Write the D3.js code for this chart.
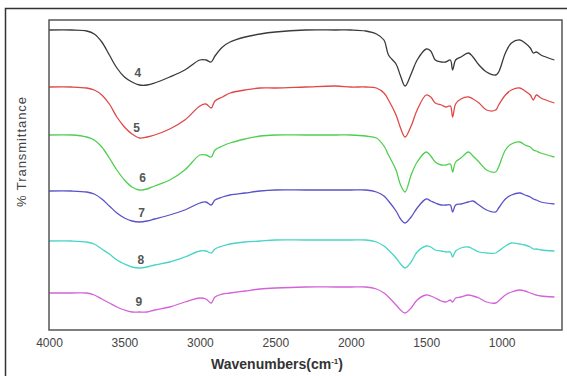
<!DOCTYPE html>
<html>
<head>
<meta charset="utf-8">
<script src="https://cdn.jsdelivr.net/npm/d3@7"></script>
<style>
  body { margin: 0; background: #fff; }
  svg { display: block; font-family: Arial, "Liberation Sans", sans-serif; }
</style>
</head>
<body>
<div id="chart"></div>
<script>
// wavenumber grid (cm-1), shared by all spectra
const wavenumbers = [4000, 3850, 3750, 3700, 3650, 3600, 3550, 3500, 3450, 3400,
  3350, 3300, 3200, 3100, 3000, 2960, 2925, 2900, 2850, 2800,
  2700, 2600, 2500, 2300, 2100, 2000, 1900, 1830, 1780, 1750,
  1700, 1670, 1640, 1600, 1560, 1500, 1470, 1440, 1400, 1370,
  1340, 1325, 1305, 1270, 1220, 1190, 1150, 1100, 1040, 1020,
  975, 935, 880, 845, 810, 790, 770, 740, 650];

// stacked % transmittance (offset, arbitrary units)
const spec4 = [300, 300, 299, 296, 288, 275, 262, 253, 248, 245,
  245, 247, 253, 260, 270, 270, 268, 274, 283, 288,
  293, 296, 298, 300, 300, 300, 299, 296, 290, 275,
  266, 254, 244, 256, 270, 281, 279, 270, 268, 268,
  270, 260, 270, 273, 277, 273, 265, 258, 255, 258,
  277, 287, 290, 287, 282, 277, 278, 275, 270];
const spec5 = [243, 243, 242, 240, 235, 226, 213, 203, 196, 192,
  193, 195, 201, 210, 224, 226, 222, 229, 233, 237,
  240, 242, 242, 243, 244, 243, 243, 242, 237, 230,
  215, 202, 193, 204, 220, 235, 233, 227, 225, 223,
  224, 213, 226, 231, 233, 231, 227, 220, 220, 225,
  235, 240, 242, 239, 235, 230, 235, 232, 227];
const spec6 = [195, 195, 193, 190, 183, 172, 160, 150, 143, 140,
  141, 144, 150, 160, 175, 175, 173, 180, 184, 187,
  191, 194, 195, 195, 195, 195, 194, 192, 184, 175,
  160, 145, 138, 155, 168, 178, 174, 168, 165, 165,
  166, 158, 168, 172, 178, 174, 168, 160, 158, 163,
  180, 186, 188, 185, 183, 180, 179, 177, 173];
const spec7 = [139, 139, 138, 136, 131, 124, 117, 112, 109, 108,
  109, 111, 115, 120, 127, 128, 125, 130, 133, 135,
  137, 139, 140, 140, 140, 140, 140, 138, 134, 129,
  119, 111, 107, 113, 122, 131, 129, 127, 125, 125,
  125, 118, 125, 126, 128, 129, 125, 120, 118, 122,
  131, 135, 137, 135, 133, 131, 130, 128, 126];
const spec8 = [89, 89, 88, 86, 81, 76, 70, 66, 63, 62,
  63, 65, 68, 73, 79, 79, 77, 81, 84, 86,
  88, 89, 90, 90, 90, 90, 90, 88, 84, 80,
  72, 66, 62, 68, 78, 84, 83, 80, 79, 78,
  78, 73, 79, 82, 83, 81, 78, 77, 77, 79,
  84, 87, 86, 85, 83, 81, 81, 80, 79];
const spec9 = [37, 37, 37, 35, 31, 27, 23, 20, 18, 18,
  18, 20, 23, 28, 32, 31, 27, 33, 36, 37,
  39, 41, 42, 43, 43, 43, 43, 41, 37, 33,
  25, 20, 17, 22, 30, 35, 34, 32, 29, 28,
  30, 28, 32, 33, 35, 34, 32, 28, 27, 29,
  35, 38, 40, 39, 37, 36, 35, 34, 33];

const sampleNames = ["4", "5", "6", "7", "8", "9"];
const spectra = [spec4, spec5, spec6, spec7, spec8, spec9];
// where each sample number sits (wavenumber, offset value)
const labelWavenumbers = [3412, 3419, 3379, 3386, 3392, 3405];
const labelValues = [257, 202, 152, 117, 70, 28];
const xTicks = [4000, 3500, 3000, 2500, 2000, 1500, 1000];

const width = 567, height = 376;
const margin = { top: 20, right: 5, bottom: 46, left: 49 };

const svg = d3.select("#chart").append("svg")
  .attr("width", width)
  .attr("height", height);

// outer frame of the figure
svg.append("rect")
  .attr("x", 5.5).attr("y", 8.5)
  .attr("width", 600).attr("height", 400)
  .attr("fill", "none")
  .attr("stroke", "#333")
  .attr("stroke-width", 1.5);

const x = d3.scaleLinear()
  .domain([4000, 600])
  .range([margin.left, width - margin.right]);

const y = d3.scaleLinear()
  .domain([0, 310])
  .range([height - margin.bottom, margin.top]);

const color = d3.scaleOrdinal()
  .domain(sampleNames)
  .range(["#3a3a3a", "#e04848", "#4fcf4f", "#5a52c8", "#48d4c8", "#d462d8"]);

const line = d3.line()
  .x((d, i) => x(wavenumbers[i]))
  .y(d => y(d))
  .curve(d3.curveCatmullRom);

svg.append("g")
  .selectAll("path")
  .data(spectra)
  .join("path")
  .attr("d", d => line(d))
  .attr("fill", "none")
  .attr("stroke", (d, i) => color(sampleNames[i]))
  .attr("stroke-width", 1.3);

svg.append("g")
  .selectAll("text")
  .data(sampleNames)
  .join("text")
  .attr("x", (d, i) => x(labelWavenumbers[i]))
  .attr("y", (d, i) => y(labelValues[i]))
  .attr("dy", "0.35em")
  .attr("text-anchor", "middle")
  .attr("font-size", 12)
  .attr("font-weight", "bold")
  .attr("fill", "#555")
  .text(d => d);

// plot box
svg.append("rect")
  .attr("x", margin.left)
  .attr("y", margin.top)
  .attr("width", width - margin.right - margin.left)
  .attr("height", height - margin.bottom - margin.top)
  .attr("fill", "none")
  .attr("stroke", "#555")
  .attr("stroke-width", 1.5);

const xAxis = svg.append("g")
  .attr("transform", `translate(0,${height - margin.bottom})`)
  .call(d3.axisBottom(x).tickValues(xTicks).tickSize(0).tickPadding(8).tickFormat(d3.format("d")));
xAxis.select(".domain").remove();
xAxis.selectAll("text")
  .attr("font-size", 12)
  .attr("fill", "#444");

svg.append("text")
  .attr("x", 277)
  .attr("y", 369)
  .attr("text-anchor", "middle")
  .attr("font-size", 14)
  .attr("font-weight", "bold")
  .attr("fill", "#333")
  .html('Wavenumbers(cm<tspan dy="-5" font-size="8">-1</tspan><tspan dy="5">)</tspan>');

svg.append("text")
  .attr("transform", "translate(21,152) rotate(-90)")
  .attr("text-anchor", "middle")
  .attr("dy", "0.35em")
  .attr("font-size", 13)
  .attr("textLength", 110)
  .attr("fill", "#444")
  .text("% Transmittance");
</script>
</body>
</html>
